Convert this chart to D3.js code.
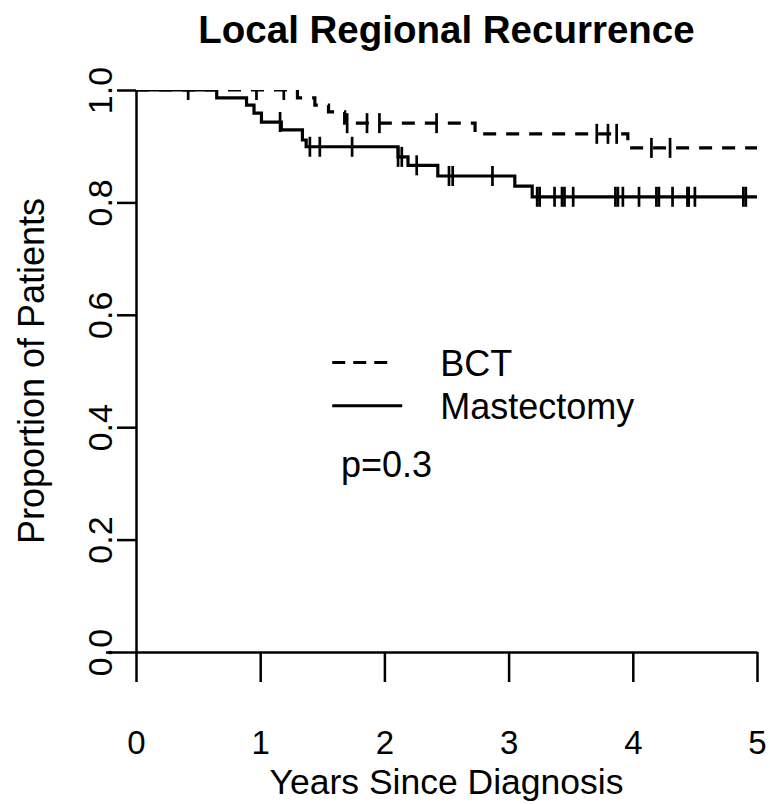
<!DOCTYPE html>
<html>
<head>
<meta charset="utf-8">
<script src="https://cdn.jsdelivr.net/npm/d3@7"></script>
<style>
  body { margin: 0; background: #fff; }
  text { font-family: "Liberation Sans", Arial, sans-serif; fill: #000; }
</style>
</head>
<body>
<div id="main"></div>
<script>
// step curves (time in years, proportion)
var bctTimes = [0, 1.30, 1.44, 1.55, 1.68, 2.73, 3.96];
var bctSurv = [1.0, 0.986, 0.973, 0.961, 0.941, 0.922, 0.897];
var bctCensor = [0.97, 1.19, 1.70, 1.86, 1.96, 2.42, 3.71, 3.80, 3.87, 4.15, 4.30];

var mastTimes = [0, 0.65, 0.89, 0.95, 1.01, 1.17, 1.34, 1.37, 2.11, 2.19, 2.43, 3.05, 3.19];
var mastSurv = [1.0, 0.986, 0.973, 0.959, 0.943, 0.929, 0.911, 0.899, 0.881, 0.866, 0.847, 0.829, 0.810];
var mastCensor = [0.42, 1.16, 1.40, 1.48, 1.74, 2.11, 2.14, 2.26, 2.52, 2.55, 2.87, 3.23, 3.25, 3.37, 3.43, 3.45, 3.52,
    3.86, 3.88, 3.92, 4.05, 4.19, 4.21, 4.32, 4.44, 4.45, 4.50, 4.89, 4.91];

var xTicks = [0, 1, 2, 3, 4, 5];
var yTicks = [0, 0.2, 0.4, 0.6, 0.8, 1.0];
var legendLabels = ["BCT", "Mastectomy"];
var pText = "p=0.3";

var ctx = {
    w: 770,
    h: 804,
    maxYear: 5
};

var stepPoints = function(times, surv) {
    var pts = times.map((t, i) => [t, surv[i]]);
    pts.push([ctx.maxYear, surv[surv.length - 1]]);
    return pts;
};

var survAt = function(times, surv, t) {
    var s = surv[0];
    times.forEach((tt, i) => { if (tt <= t) s = surv[i]; });
    return s;
};

var drawAxes = function(g) {
    var xAx = g.append("g")
        .attr("transform", `translate(0,${ctx.yScale(0)})`)
        .call(d3.axisBottom(ctx.xScale).tickValues(xTicks).tickFormat(d3.format("d"))
            .tickSizeInner(30).tickSizeOuter(0).tickPadding(49));
    xAx.select(".domain").attr("stroke-width", 2.5);
    xAx.selectAll(".tick line").attr("stroke-width", 2.5);
    xAx.selectAll("text").attr("font-size", 33).attr("font-family", null);

    var yAx = g.append("g")
        .attr("transform", `translate(${ctx.xScale(0)},0)`)
        .call(d3.axisLeft(ctx.yScale).tickValues(yTicks).tickFormat(d3.format(".1f"))
            .tickSizeInner(19).tickSizeOuter(0).tickPadding(0));
    yAx.select(".domain").attr("stroke-width", 2.5);
    yAx.selectAll(".tick line").attr("stroke-width", 2.5);
    yAx.selectAll(".tick").filter(d => d === 0).select("line").attr("x2", -30);
    yAx.selectAll("text")
        .attr("font-size", 34).attr("font-family", null)
        .attr("x", null).attr("dy", null)
        .attr("text-anchor", "middle")
        .attr("transform", "translate(-24,0) rotate(-90)");

    g.append("text")
        .attr("x", (ctx.xScale(0) + ctx.xScale(5)) / 2)
        .attr("y", 794)
        .attr("text-anchor", "middle")
        .attr("font-size", 35.5)
        .text("Years Since Diagnosis");
    g.append("text")
        .attr("transform", `translate(44,${(ctx.yScale(0) + ctx.yScale(1)) / 2}) rotate(-90)`)
        .attr("text-anchor", "middle")
        .attr("font-size", 36)
        .text("Proportion of Patients");
    g.append("text")
        .attr("x", (ctx.xScale(0) + ctx.xScale(5)) / 2)
        .attr("y", 43)
        .attr("text-anchor", "middle")
        .attr("font-size", 38.5)
        .attr("font-weight", "bold")
        .text("Local Regional Recurrence");
};

var drawCurve = function(g, times, surv, censor, dash) {
    var line = d3.line()
        .x(d => ctx.xScale(d[0]))
        .y(d => ctx.yScale(d[1]))
        .curve(d3.curveStepAfter);
    g.append("path")
        .datum(stepPoints(times, surv))
        .attr("d", line)
        .attr("fill", "none")
        .attr("stroke", "#000")
        .attr("stroke-width", 3.2)
        .attr("stroke-dasharray", dash);
    g.selectAll(null)
        .data(censor)
        .enter()
        .append("line")
        .attr("x1", d => ctx.xScale(d))
        .attr("x2", d => ctx.xScale(d))
        .attr("y1", d => ctx.yScale(survAt(times, surv, d)) - 10)
        .attr("y2", d => ctx.yScale(survAt(times, surv, d)) + 10)
        .attr("stroke", "#000")
        .attr("stroke-width", 2.7);
};

var drawLegend = function(g) {
    var rows = [{ y: 0.515, dash: "13,8", len: 62 }, { y: 0.438, dash: null, len: 70 }];
    rows.forEach((r, i) => {
        g.append("line")
            .attr("x1", ctx.xScale(1.58)).attr("x2", ctx.xScale(1.58) + r.len)
            .attr("y1", ctx.yScale(r.y)).attr("y2", ctx.yScale(r.y))
            .attr("stroke", "#000").attr("stroke-width", 3)
            .attr("stroke-dasharray", r.dash);
        g.append("text")
            .attr("x", ctx.xScale(2.45))
            .attr("y", ctx.yScale(r.y) + 13)
            .attr("font-size", 36)
            .text(legendLabels[i]);
    });
    g.append("text")
        .attr("x", ctx.xScale(1.65))
        .attr("y", ctx.yScale(0.311))
        .attr("font-size", 36)
        .text(pText);
};

var createViz = function() {
    var svgEl = d3.select("#main").append("svg")
        .attr("width", ctx.w)
        .attr("height", ctx.h);
    ctx.xScale = d3.scaleLinear().domain([0, ctx.maxYear]).range([136, 757]);
    ctx.yScale = d3.scaleLinear().domain([0, 1]).range([652, 90]);

    svgEl.append("defs").append("clipPath").attr("id", "plotClip")
        .append("rect")
        .attr("x", 136).attr("y", 90)
        .attr("width", 640).attr("height", 562);

    var rootG = svgEl.append("g").attr("id", "rootG");
    drawAxes(rootG);
    var curveG = rootG.append("g").attr("clip-path", "url(#plotClip)");
    drawCurve(curveG, bctTimes, bctSurv, bctCensor, "13,10");
    drawCurve(curveG, mastTimes, mastSurv, mastCensor, null);
    drawLegend(rootG);
};

createViz();
</script>
</body>
</html>
